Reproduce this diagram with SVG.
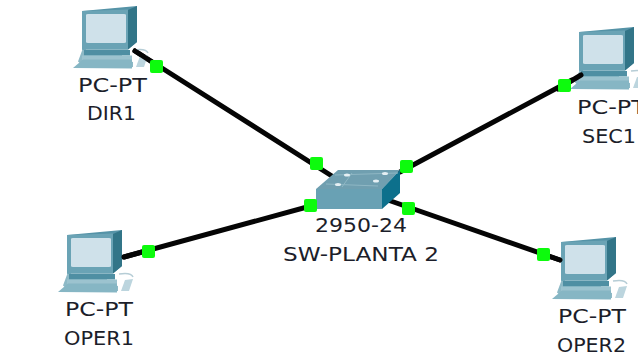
<svg xmlns="http://www.w3.org/2000/svg" width="638" height="356" viewBox="0 0 638 356">
<style>
.l{font-family:"DejaVu Sans","Liberation Sans",sans-serif;font-size:19px;fill:#1c1e2a}
.c{stroke:#050505;stroke-width:5;fill:none;stroke-linecap:round}
.p{fill:#0dfb0d}
.i{filter:url(#soft)}
</style>
<defs>
<filter id="soft" x="-5%" y="-5%" width="110%" height="110%"><feGaussianBlur stdDeviation="0.400"/></filter>
<g id="pc">
<path d="M26 40L18 61.500L24 67L60 68L73 67L73 62L62 59L62 51L26 50Z" fill="#8db9c6"/>
<path d="M24 50H70V55.500H24Z" fill="#4f8fa3"/>
<path d="M22 55.500H72V60H22Z" fill="#9cc3cf"/>
<path d="M13 68L23 59.500H72V68.500Z" fill="#86b6c4"/>
<path d="M22 11L77 6V42L68 49.500H22Z" fill="#5593a7"/>
<path d="M68 10L77 6V42L68 49.500Z" fill="#337488"/>
<path d="M22 11L68 9.500V49.500H22Z" fill="#6aa3b5"/>
<path d="M26 15Q26 14 28 14H64Q66 14 66 15V42Q66 43 64 43H28Q26 43 26 42Z" fill="#cfe1ea"/>
<path d="M76 67L80 56L88 55L84 67Z" fill="#bcd5de"/>
<path d="M74 50Q86 48 88 53" fill="none" stroke="#b6cdd6" stroke-width="1.500"/>
</g>
</defs>
<rect width="638" height="356" fill="#fff"/>
<g id="connectors">
<path class="c" d="M135 51L335 178"/>
<path class="c" d="M124 257L318 204"/>
<path class="c" d="M400 172L572 80"/>
<path class="c" d="M385 199L560 260"/>
</g>
<g id="DIR1"><use class="i" href="#pc" x="60" y="0"/><path class="c" d="M135 51L152 62"/><rect class="p" x="150" y="60" width="13" height="13" rx="2"/><text class="l" x="78" y="92" textLength="69" lengthAdjust="spacingAndGlyphs">PC-PT</text><text class="l" x="87" y="120" textLength="49" lengthAdjust="spacingAndGlyphs">DIR1</text></g>
<g id="SEC1"><use class="i" href="#pc" x="557" y="21"/><path class="c" d="M558 89L581 75"/><rect class="p" x="558" y="79" width="13" height="13" rx="2"/><text class="l" x="577" y="114" textLength="69" lengthAdjust="spacingAndGlyphs">PC-PT</text><text class="l" x="582" y="143" textLength="54" lengthAdjust="spacingAndGlyphs">SEC1</text></g>
<g id="OPER1"><use class="i" href="#pc" x="45" y="224"/><path class="c" d="M124 257L142 252"/><rect class="p" x="142" y="245" width="13" height="13" rx="2"/><text class="l" x="65" y="316" textLength="68" lengthAdjust="spacingAndGlyphs">PC-PT</text><text class="l" x="64" y="345" textLength="70" lengthAdjust="spacingAndGlyphs">OPER1</text></g>
<g id="OPER2"><use class="i" href="#pc" x="539" y="231"/><path class="c" d="M548 256L560 260"/><rect class="p" x="537" y="248" width="13" height="13" rx="2"/><text class="l" x="558" y="323" textLength="68" lengthAdjust="spacingAndGlyphs">PC-PT</text><text class="l" x="557" y="352" textLength="69" lengthAdjust="spacingAndGlyphs">OPER2</text></g>
<g id="SW-PLANTA-2">
<g class="i">
<path d="M316 189L338 170H400L382 189Z" fill="#6f9fb0"/>
<path d="M316 189H382V209H316Z" fill="#69a1b4"/>
<path d="M382 189L400 170V193L382 209Z" fill="#0f6f8c"/>
<path d="M335 175L398 173M326 184L378 186M352 173L342 187" stroke="#8fb7c4" stroke-width="1" fill="none"/>
<ellipse cx="347" cy="175" rx="3" ry="1.500" fill="#e6f0f4"/><ellipse cx="385" cy="173.500" rx="3" ry="1.500" fill="#e6f0f4"/><ellipse cx="338" cy="184.500" rx="3" ry="1.500" fill="#e6f0f4"/><ellipse cx="376" cy="181" rx="3" ry="1.500" fill="#e6f0f4"/>
</g>
<rect class="p" x="310" y="157" width="13" height="13" rx="2"/>
<rect class="p" x="400" y="160" width="13" height="13" rx="2"/>
<rect class="p" x="304" y="199" width="13" height="13" rx="2"/>
<rect class="p" x="402" y="202" width="13" height="13" rx="2"/>
<text class="l" x="315" y="232" textLength="92" lengthAdjust="spacingAndGlyphs">2950-24</text><text class="l" x="283" y="261" textLength="156" lengthAdjust="spacingAndGlyphs">SW-PLANTA 2</text></g>
</svg>
